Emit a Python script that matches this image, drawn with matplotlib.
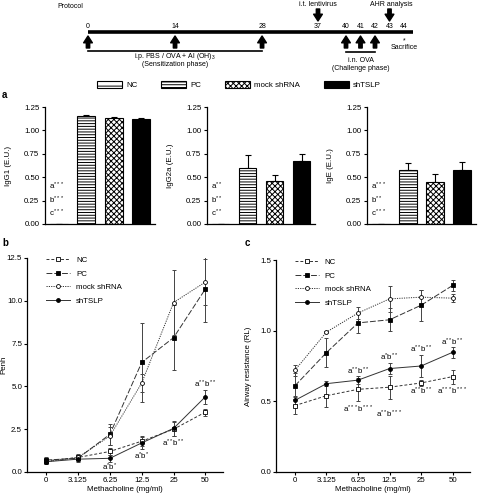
import re
import numpy as np
import matplotlib
matplotlib.use("Agg")
import matplotlib.pyplot as plt
from matplotlib.patches import Patch

plt.rcParams['font.family'] = ['Liberation Sans', 'DejaVu Sans']
plt.rcParams['mathtext.fontset'] = 'custom'
plt.rcParams['mathtext.rm'] = 'Liberation Sans'
plt.rcParams['mathtext.it'] = 'Liberation Sans:italic'
plt.rcParams['hatch.linewidth'] = 0.7
plt.rcParams['axes.linewidth'] = 0.9

# ---- data ----
groups = ['NC', 'PC', 'mock shRNA', 'shTSLP']
hatches = ['---', '------', 'xxxxxx', '']
faces = ['white', 'white', 'white', 'black']

igg1 = [0.0, 1.15, 1.13, 1.12]
igg1_err = [0.0, 0.01, 0.01, 0.01]
igg2a = [0.0, 0.60, 0.46, 0.67]
igg2a_err = [0.0, 0.14, 0.06, 0.08]
ige = [0.0, 0.58, 0.45, 0.58]
ige_err = [0.0, 0.07, 0.08, 0.08]
igg1_sig = ['a***', 'b***', 'c***']
igg2a_sig = ['a**', 'b**', 'c**']
ige_sig = ['a***', 'b**', 'c***']

doses = ['0', '3.125', '6.25', '12.5', '25', '50']

penh_nc = [0.65, 0.85, 1.2, 1.8, 2.5, 3.5]
penh_nc_err = [0.15, 0.15, 0.2, 0.3, 0.4, 0.2]
penh_pc = [0.7, 0.8, 2.2, 6.4, 7.85, 10.7]
penh_pc_err = [0.15, 0.2, 0.6, 2.3, 1.9, 1.95]
penh_mock = [0.6, 0.85, 2.1, 5.2, 9.9, 11.1]
penh_mock_err = [0.15, 0.2, 0.5, 0.5, 1.9, 1.35]
penh_sh = [0.6, 0.75, 0.8, 1.7, 2.55, 4.4]
penh_sh_err = [0.15, 0.1, 0.2, 0.35, 0.45, 0.4]
penh_annot = ['', '', 'a*b*', 'a*b*', 'a**b**', 'a**b**']
penh_annot_y = [0, 0, 0.3, 0.9, 1.7, 5.1]

rl_nc = [0.47, 0.54, 0.585, 0.60, 0.63, 0.675]
rl_nc_err = [0.06, 0.08, 0.08, 0.08, 0.02, 0.05]
rl_pc = [0.61, 0.845, 1.055, 1.077, 1.18, 1.32]
rl_pc_err = [0.09, 0.10, 0.07, 0.08, 0.11, 0.04]
rl_mock = [0.72, 0.99, 1.125, 1.225, 1.237, 1.23]
rl_mock_err = [0.04, 0.01, 0.04, 0.09, 0.05, 0.03]
rl_sh = [0.507, 0.625, 0.65, 0.732, 0.75, 0.847]
rl_sh_err = [0.03, 0.02, 0.03, 0.04, 0.08, 0.04]
rl_annot_hi = ['', '', 'a**b**', 'a*b**', 'a**b**', 'a**b**']
rl_annot_hi_y = [0, 0, 0.71, 0.81, 0.865, 0.92]
rl_annot_lo = ['', '', 'a***b***', 'a**b***', 'a**b**', 'a***b***']
rl_annot_lo_y = [0, 0, 0.443, 0.41, 0.573, 0.573]

days = [0, 14, 28, 37, 40, 41, 42, 43, 44]
ip_days = [0, 14, 28]
in_days = [40, 41, 42]

W, H = 478, 495
FS = 5.7
PFS = 5.0


def box(l, t, r, b):
    return [l / W, 1 - b / H, (r - l) / W, (b - t) / H]


def sup(s):
    return re.sub(r'(\*+)', r'$^{\1}$', s)


fig = plt.figure(figsize=(W / 100, H / 100), dpi=100)

# ---- protocol timeline ----
ax0 = fig.add_axes([0, 0, 1, 1])
ax0.set_xlim(0, W)
ax0.set_ylim(H, 0)
ax0.axis('off')


def dx(d):
    return np.interp(d, [0, 37, 40, 44], [88, 318, 346, 404])


arrow = dict(arrowstyle='simple,head_width=0.9,head_length=0.7,tail_width=0.35',
             color='black', shrinkA=0, shrinkB=0, mutation_scale=7)
ax0.plot([dx(0), 413], [32, 32], color='black', lw=2.6, solid_capstyle='butt')
for d in days:
    ax0.text(dx(d), 27, str(d), ha='center', va='center', fontsize=PFS)
for d in ip_days + in_days:
    ax0.annotate('', xy=(dx(d), 36), xytext=(dx(d), 48), arrowprops=arrow)
for d in [37, 43]:
    ax0.annotate('', xy=(dx(d), 21), xytext=(dx(d), 9), arrowprops=arrow)
ax0.text(57, 6.5, 'Protocol', ha='left', va='center', fontsize=PFS)
ax0.text(dx(37), 5, 'i.t. lentivirus', ha='center', va='center', fontsize=PFS)
ax0.text(dx(43) + 2, 5, 'AHR analysis', ha='center', va='center', fontsize=PFS)
ax0.text(dx(44), 41, '*', ha='center', va='center', fontsize=PFS)
ax0.text(dx(44), 47.5, 'Sacrifice', ha='center', va='center', fontsize=PFS)
ax0.plot([dx(0), dx(28)], [50.5, 50.5], color='black', lw=1.2)
ax0.text(dx(14), 56.5, 'i.p. PBS / OVA + Al (OH)$_3$', ha='center', va='center', fontsize=PFS)
ax0.text(dx(14), 65, '(Sensitization phase)', ha='center', va='center', fontsize=PFS)
ax0.plot([dx(40), dx(42)], [52, 52], color='black', lw=1.2)
ax0.text(dx(41), 60, 'i.n. OVA', ha='center', va='center', fontsize=PFS)
ax0.text(dx(41), 69, '(Challenge phase)', ha='center', va='center', fontsize=PFS)
ax0.text(2, 95, 'a', fontsize=7, fontweight='bold', va='center')
ax0.text(2, 243, 'b', fontsize=7, fontweight='bold', va='center')
ax0.text(245, 243, 'c', fontsize=7, fontweight='bold', va='center')

# ---- bar charts ----
bar_sets = [(igg1, igg1_err, igg1_sig, 'IgG1 (E.U.)', (45, 155)),
            (igg2a, igg2a_err, igg2a_sig, 'IgG2a (E.U.)', (207, 315)),
            (ige, ige_err, ige_sig, 'IgE (E.U.)', (367, 476))]
x = np.arange(len(groups))
for vals, errs, sig, lab, (l, r) in bar_sets:
    ax = fig.add_axes(box(l, 107, r, 224))
    for i in range(len(groups)):
        ax.bar(x[i], vals[i], width=0.66, color=faces[i], hatch=hatches[i],
               edgecolor='black', lw=0.8, zorder=2)
    ax.errorbar(x, vals, yerr=[np.zeros(4), errs], fmt='none', ecolor='black',
                elinewidth=0.8, capsize=2, capthick=0.8, zorder=1)
    ax.set_xlim(-0.5, 3.5)
    ax.set_ylim(0, 1.25)
    ax.set_yticks(np.arange(0, 1.26, 0.25))
    ax.set_yticklabels(['%.2f' % v for v in np.arange(0, 1.26, 0.25)])
    ax.set_xticks([])
    ax.spines[['top', 'right']].set_visible(False)
    ax.tick_params(axis='y', labelsize=FS, length=2, width=0.8, pad=2)
    ax.set_ylabel(lab, fontsize=FS)
    ax.yaxis.set_label_coords(-33 / (r - l), 0.5)
    for s, yy in zip(sig, [0.40, 0.255, 0.115]):
        ax.text(-0.35, yy, sup(s), fontsize=FS, ha='left', va='center')

fig.legend(handles=[Patch(facecolor=f, edgecolor='black', hatch=h, lw=0.8, label=g)
                    for g, f, h in zip(groups, faces, hatches)],
           loc='center', bbox_to_anchor=(0.5, 1 - 85 / H), ncol=4, frameon=False,
           fontsize=FS, handlelength=3.2, handleheight=0.9, columnspacing=3.0,
           handletextpad=0.5)

# ---- line charts ----
styles = {
    'NC': dict(ls=(0, (3, 2)), marker='s', mfc='white'),
    'PC': dict(ls=(0, (6, 2)), marker='s', mfc='black'),
    'mock shRNA': dict(ls=(0, (1.2, 1.2)), marker='o', mfc='white'),
    'shTSLP': dict(ls='-', marker='o', mfc='black'),
}
xi = np.arange(len(doses))


def line_panel(l, t, r, b, series, ylim, yticks, ylabel, label_x):
    ax = fig.add_axes(box(l, t, r, b))
    for name, vals, errs in series:
        ax.errorbar(xi, vals, yerr=errs, fmt='none', ecolor='#444444',
                    elinewidth=0.7, capsize=1.5, capthick=0.7, zorder=2)
    for name, vals, errs in series:
        st = styles[name]
        ax.plot(xi, vals, ls=st['ls'], color='#333333', lw=0.7, marker=st['marker'],
                ms=2.8, mfc=st['mfc'], mec='black', mew=0.6, label=name, zorder=3)
    ax.set_xlim(-0.6, 5.55)
    ax.set_ylim(*ylim)
    ax.set_yticks(yticks)
    ax.set_yticklabels(['%.1f' % v for v in yticks])
    ax.set_xticks(xi)
    ax.set_xticklabels(doses)
    ax.spines[['top', 'right']].set_visible(False)
    ax.tick_params(labelsize=FS, length=2, width=0.8, pad=1.5)
    ax.set_xlabel('Methacholine (mg/ml)', fontsize=FS, labelpad=1.5)
    ax.set_ylabel(ylabel, fontsize=FS)
    ax.yaxis.set_label_coords((label_x - l) / (r - l), 0.5)
    ax.legend(loc='upper left', bbox_to_anchor=(0.06, 1.04), frameon=False,
              fontsize=FS, handlelength=3.0, handletextpad=0.8, labelspacing=0.75)
    return ax


axb = line_panel(27, 258, 223, 472,
                 [('NC', penh_nc, penh_nc_err), ('PC', penh_pc, penh_pc_err),
                  ('mock shRNA', penh_mock, penh_mock_err), ('shTSLP', penh_sh, penh_sh_err)],
                 (0, 12.5), np.arange(0, 12.6, 2.5), 'Penh', 7)
for i, (t, yy) in enumerate(zip(penh_annot, penh_annot_y)):
    if t:
        axb.text(xi[i], yy, sup(t), fontsize=FS, ha='center', va='center')

axc = line_panel(276, 260, 470, 472,
                 [('NC', rl_nc, rl_nc_err), ('PC', rl_pc, rl_pc_err),
                  ('mock shRNA', rl_mock, rl_mock_err), ('shTSLP', rl_sh, rl_sh_err)],
                 (0, 1.5), np.arange(0, 1.6, 0.5), 'Airway resistance (RL)', 252)
for i in range(len(doses)):
    if rl_annot_hi[i]:
        axc.text(xi[i], rl_annot_hi_y[i], sup(rl_annot_hi[i]), fontsize=FS, ha='center', va='center')
    if rl_annot_lo[i]:
        axc.text(xi[i], rl_annot_lo_y[i], sup(rl_annot_lo[i]), fontsize=FS, ha='center', va='center')

fig.savefig('out.png', dpi=100)
